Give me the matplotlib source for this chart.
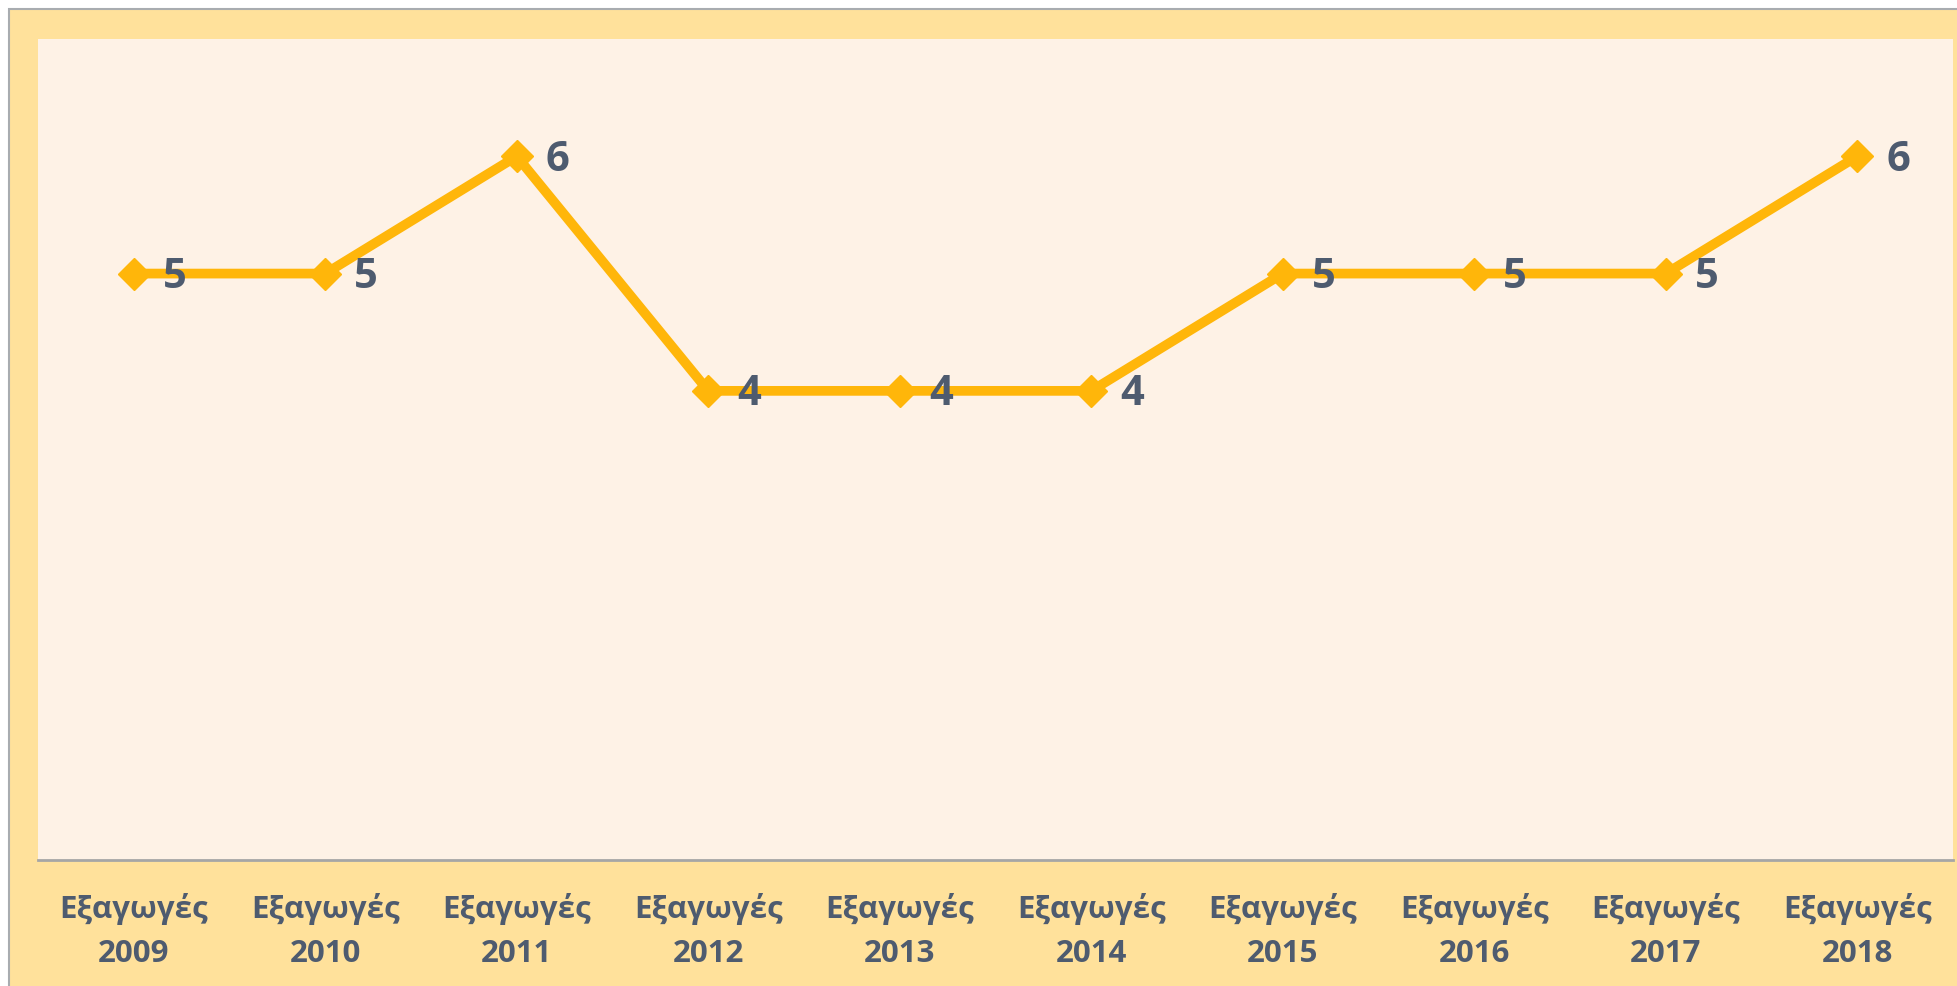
import matplotlib.pyplot as plt
from matplotlib.patches import Rectangle

categories = ['Εξαγωγές\n2009', 'Εξαγωγές\n2010', 'Εξαγωγές\n2011', 'Εξαγωγές\n2012',
              'Εξαγωγές\n2013', 'Εξαγωγές\n2014', 'Εξαγωγές\n2015', 'Εξαγωγές\n2016',
              'Εξαγωγές\n2017', 'Εξαγωγές\n2018']
values = [5, 5, 6, 4, 4, 4, 5, 5, 5, 6]

fonts = ['Open Sans', 'DejaVu Sans']
text_color = '#4E5B6F'
line_color = '#FFB60A'

W, H = 1957, 986
fig = plt.figure(figsize=(W / 100, H / 100), dpi=100, facecolor='white')

# yellow frame behind the plot
fig.patches.append(Rectangle((9 / W, -0.01), 1.0, (H - 9) / H + 0.01,
                             transform=fig.transFigure, facecolor='#FFE19B',
                             edgecolor='#A8ACB0', linewidth=1.5, zorder=-5))

ax = fig.add_axes([38 / W, 126 / H, (1953 - 38) / W, (860 - 39) / H])
ax.set_facecolor('#FEF2E6')

x = list(range(len(values)))
ax.plot(x, values, color=line_color, linewidth=7, marker='D', markersize=16,
        markeredgecolor=line_color, solid_joinstyle='miter', zorder=3)

for xi, v in zip(x, values):
    ax.annotate(str(v), (xi, v), xytext=(41, -4), textcoords='offset pixels',
                ha='center', va='center', fontsize=30, fontweight='bold',
                color=text_color, family=fonts, zorder=4)

ax.set_xlim(-0.5, len(values) - 0.5)
ax.set_ylim(0, 7)
ax.set_xticks(x)
ax.set_xticklabels(categories, fontsize=22.5, fontweight='bold', color=text_color,
                   family=fonts, linespacing=1.6)
ax.tick_params(axis='x', length=0, pad=24)
ax.set_yticks([])
for s in ['top', 'left', 'right']:
    ax.spines[s].set_visible(False)
ax.spines['bottom'].set_color('#A6A6A6')
ax.spines['bottom'].set_linewidth(2)

fig.savefig('out.png', dpi=100, facecolor=fig.get_facecolor())
